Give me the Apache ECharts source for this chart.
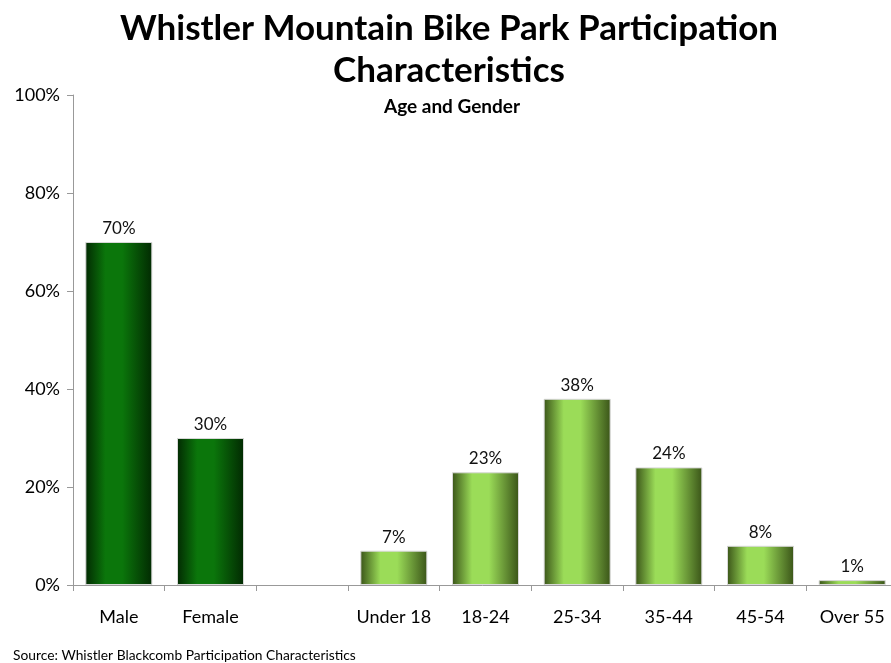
<!DOCTYPE html>
<html>
<head>
<meta charset="utf-8">
<script src="https://cdn.jsdelivr.net/npm/echarts@6/dist/echarts.min.js"></script>
<style>
  html, body { margin: 0; padding: 0; background: #fff; }
  #chart { width: 891px; height: 663px; }
</style>
</head>
<body>
<div id="chart"></div>
<script>
// categories (the empty one is the gap between gender and age groups)
var categories = ['Male', 'Female', '', 'Under 18', '18-24', '25-34', '35-44', '45-54', 'Over 55'];
var genderValues = [70, 30, null, null, null, null, null, null, null];
var ageValues = [null, null, null, 7, 23, 38, 24, 8, 1];
var yTicks = [0, 20, 40, 60, 80, 100];

var chart = echarts.init(document.getElementById('chart'));

// cylinder-ish shading like the excel bars
function shade(edge, mid) {
    return new echarts.graphic.LinearGradient(0, 0, 1, 0, [
        { offset: 0, color: edge },
        { offset: 0.3, color: mid },
        { offset: 0.55, color: mid },
        { offset: 1, color: edge }
    ]);
}

var option = {
    textStyle: { fontFamily: 'Lato' },
    title: [{
        text: 'Whistler Mountain Bike Park Participation\nCharacteristics',
        left: 449, top: 8, textAlign: 'center', padding: 0,
        textStyle: { fontSize: 35, fontWeight: 'bold', color: '#000', lineHeight: 42, fontFamily: 'Lato' }
    }, {
        text: 'Age and Gender',
        left: 452, top: 97, textAlign: 'center', padding: 0,
        textStyle: { fontSize: 19, fontWeight: 'bold', color: '#000', fontFamily: 'Lato' }
    }, {
        text: 'Source: Whistler Blackcomb Participation Characteristics',
        left: 13, top: 649, padding: 0,
        textStyle: { fontSize: 13.8, fontWeight: 'normal', color: '#000', fontFamily: 'Lato' }
    }],
    grid: { left: 73, width: 825, top: 95, bottom: 78, containLabel: false, outerBoundsMode: 'none' },
    xAxis: {
        type: 'category',
        data: categories,
        axisLine: { lineStyle: { color: '#999' } },
        axisTick: { show: true, length: 6, lineStyle: { color: '#999' } },
        axisLabel: { color: '#000', fontSize: 18, margin: 23, interval: 0, hideOverlap: false, fontFamily: 'Lato' }
    },
    yAxis: {
        type: 'value',
        min: 0, max: 100, interval: 20,
        axisLine: { show: true, lineStyle: { color: '#999' } },
        axisTick: { show: true, length: 6, lineStyle: { color: '#999' } },
        splitLine: { show: false },
        axisLabel: {
            color: '#000', fontSize: 18, margin: 13, fontFamily: 'Lato',
            formatter: function (v) { return yTicks.indexOf(v) >= 0 ? v + '%' : ''; }
        }
    },
    series: [{
        name: 'Gender',
        type: 'bar',
        data: genderValues,
        barWidth: 67,
        barGap: '-100%',
        itemStyle: { color: shade('#022a02', '#0b760b'), borderColor: '#d8d8d8', borderWidth: 1 },
        label: { show: true, position: 'top', formatter: '{c}%', color: '#111', fontSize: 17, distance: 5 }
    }, {
        name: 'Age',
        type: 'bar',
        data: ageValues,
        barWidth: 67,
        itemStyle: { color: shade('#3a5418', '#9bdc58'), borderColor: '#d8d8d8', borderWidth: 1 },
        label: { show: true, position: 'top', formatter: '{c}%', color: '#111', fontSize: 17, distance: 5 }
    }]
};

chart.setOption(option);
</script>
</body>
</html>
